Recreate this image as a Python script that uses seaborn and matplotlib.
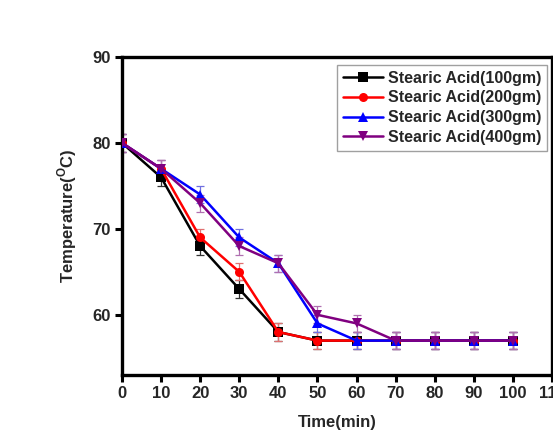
import matplotlib
matplotlib.use("Agg")
import matplotlib.pyplot as plt
import seaborn as sns
import pandas as pd
import numpy as np

time_min = [0, 10, 20, 30, 40, 50, 60, 70, 80, 90, 100]
acid_100gm = [80, 76, 68, 63, 58, 57, 57, 57, 57, 57, 57]
acid_200gm = [80, 77, 69, 65, 58, 57, 57, 57, 57, 57, 57]
acid_300gm = [80, 77, 74, 69, 66, 59, 57, 57, 57, 57, 57]
acid_400gm = [80, 77, 73, 68, 66, 60, 59, 57, 57, 57, 57]
error = [1.0] * len(time_min)

labels = ["Stearic Acid(100gm)", "Stearic Acid(200gm)",
          "Stearic Acid(300gm)", "Stearic Acid(400gm)"]
series = [acid_100gm, acid_200gm, acid_300gm, acid_400gm]
colors = ["#000000", "#ff0000", "#0000ff", "#800080"]
err_colors = ["#333333", "#e07070", "#7070e0", "#b070b0"]
marker_styles = ["s", "o", "^", "v"]

sns.set_style("white")
plt.rcParams["font.family"] = ["Liberation Sans", "DejaVu Sans"]
plt.rcParams["font.weight"] = "bold"
plt.rcParams["mathtext.fontset"] = "custom"
plt.rcParams["mathtext.rm"] = "Liberation Sans:bold"
plt.rcParams["mathtext.bf"] = "Liberation Sans:bold"

df = pd.DataFrame({
    "Time": np.tile(time_min, len(labels)),
    "Temperature": np.concatenate(series),
    "Sample": np.repeat(labels, len(time_min)),
})

fig = plt.figure(figsize=(5.53, 4.41), dpi=100)
ax = fig.add_axes([0.2206, 0.1497, 0.7776, 0.7210])

# error bars underneath the lines
for vals, ec in zip(series, err_colors):
    ax.errorbar(time_min, vals, yerr=error, fmt="none", ecolor=ec,
                elinewidth=0.9, capsize=3, capthick=0.9, zorder=1)

sns.lineplot(data=df, x="Time", y="Temperature", hue="Sample", style="Sample",
             palette=dict(zip(labels, colors)),
             markers=dict(zip(labels, marker_styles)),
             dashes=False, linewidth=1.8, markersize=6.5,
             markeredgewidth=0, ax=ax, zorder=3)

ax.set_xlim(0, 110)
ax.set_ylim(53, 90)
ax.set_xticks(np.arange(0, 111, 10))
ax.set_yticks([60, 70, 80, 90])
ax.tick_params(axis="both", which="major", direction="out", length=5, width=2.2,
               labelsize=12, bottom=True, left=True, top=False, right=False,
               color="black", pad=3)
for lbl in ax.get_xticklabels() + ax.get_yticklabels():
    lbl.set_fontweight("bold")
for sp in ax.spines.values():
    sp.set_linewidth(2.4)
    sp.set_color("black")

ax.set_xlabel("Time(min)", fontsize=12, fontweight="bold", labelpad=10)
ax.set_ylabel(r"Temperature($^{\mathrm{O}}$C)", fontsize=12, fontweight="bold",
              labelpad=10)

leg = ax.legend(loc="upper right", bbox_to_anchor=(0.995, 0.985),
                prop={"weight": "bold", "size": 11.5}, frameon=True, fancybox=False,
                handlelength=2.5, handletextpad=0.3, borderpad=0.35,
                labelspacing=0.3, borderaxespad=0.2)
leg.get_frame().set_edgecolor("#888888")
leg.get_frame().set_linewidth(1.0)

fig.savefig("out.png", dpi=100)
